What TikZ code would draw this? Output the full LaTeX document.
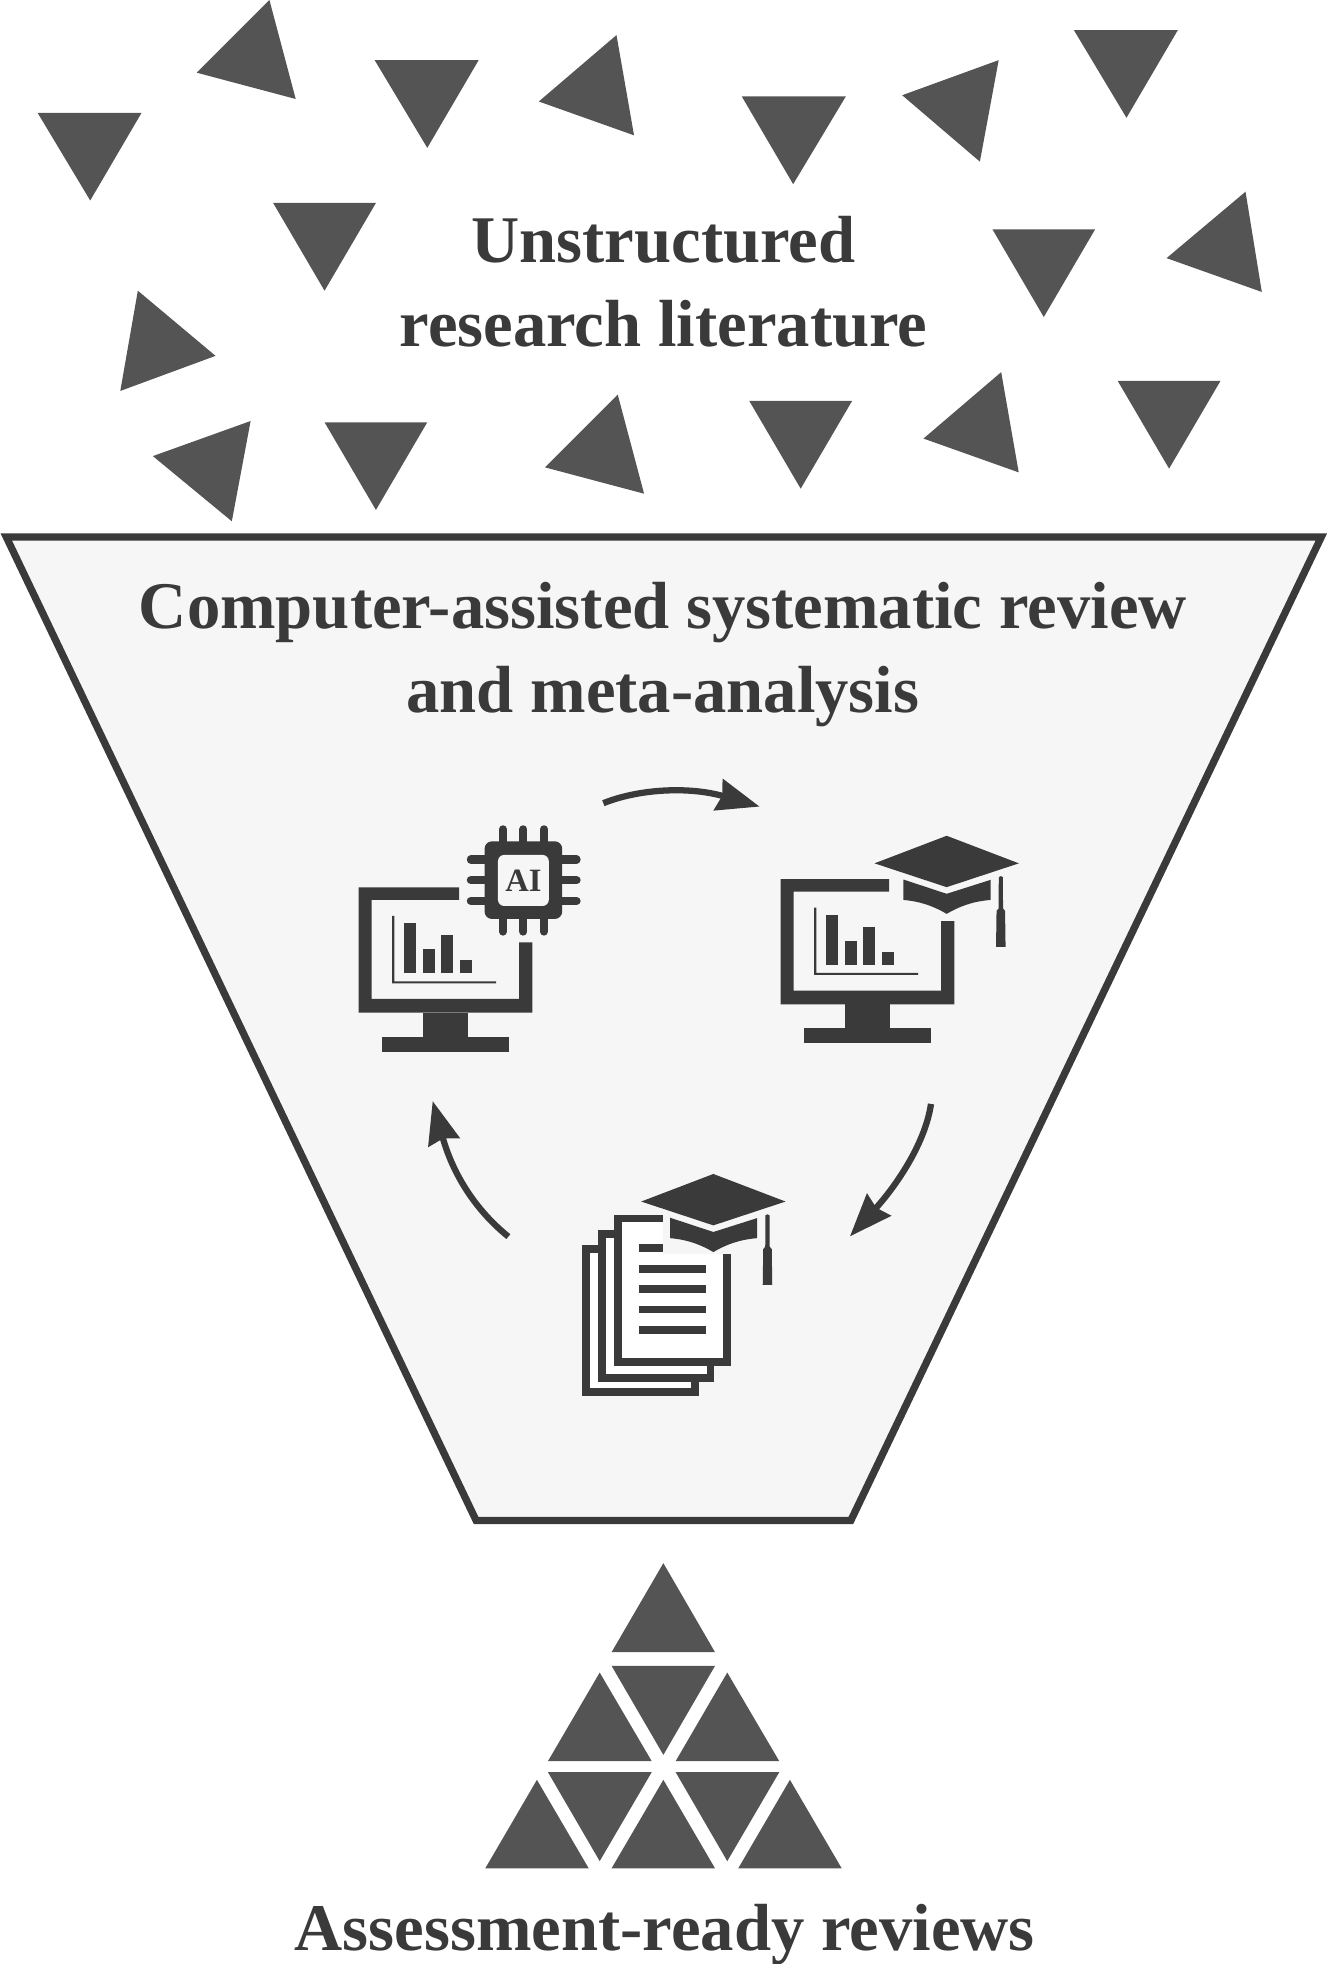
\documentclass[tikz,border=0pt]{standalone}
\usepackage{fontspec}
\setmainfont{Liberation Serif}
\usetikzlibrary{arrows.meta}

\definecolor{ink}{HTML}{3A3A3A}
\definecolor{shard}{HTML}{545454}
\definecolor{funnelbg}{HTML}{F6F6F6}

\tikzset{
	shard piece/.style={fill=shard, draw=none},
	big label/.style={font=\fontsize{53.2}{67}\selectfont\bfseries, text=ink, align=center, inner sep=0pt},
	cycle arrow/.style={draw=ink, line width=5pt, -{Stealth[length=34pt, width=25.5pt, inset=3pt]}},
	pics/monitor/.style n args={2}{code={
		\fill[ink] (#1,0) -- (0,0) -- (0,100) -- (138.6,100) -- (138.6,#2) -- (128,#2) -- (128,89) -- (10.3,89) -- (10.3,10.1) -- (#1,10.1) -- cycle;
		\fill[ink] (51.3,100) rectangle (86.9,119.2);
		\fill[ink] (18.5,119.2) rectangle (120,131.2);
		% axes and bars
		\fill[ink] (26.7,22.9) -- (28.5,22.9) -- (28.5,75) -- (109.7,75) -- (109.7,76.6) -- (26.7,76.6) -- cycle;
		\fill[ink] (36.3,28.5) rectangle (45.9,68.6);
		\fill[ink] (51.3,49.2) rectangle (60.9,68.6);
		\fill[ink] (65.9,38.3) rectangle (75.5,68.6);
		\fill[ink] (80.8,58) rectangle (90.5,68.6);
	}},
	pics/gradcap/.style={code={
		\fill[ink] (0,0) -- (57.6,22) -- (0,41) -- (-57.6,22) -- cycle;
		\fill[ink] (-34.6,34.9) -- (0,46.3) -- (35,35.2) -- (35,51.2) .. controls (20,52.5) and (10,56.5) .. (0,62.3) .. controls (-10,56.5) and (-20,52.5) .. (-34.6,51.2) -- cycle;
		\fill[ink] (41.6,33) -- (43.2,32.2) -- (44.8,33) -- (45,58) -- (46.6,60) -- (47,88.6) -- (39.4,88.6) -- (39.8,60) -- (41.4,58) -- cycle;
	}}
}

\begin{document}
\begin{tikzpicture}[x=1pt, y=-1pt]
	\useasboundingbox (0,0) rectangle (1059,1567.4);

	% scattered pieces
	\foreach \ax/\ay/\bx/\by/\cx/\cy in {
		30/90/113/90/72/160, 215/0/157/58/236/79, 299/48/382/48/341/118, 492/28/430/81/506/108,
		592/77/675/77/633/147, 797/48/720/76/782/129, 857/24/940/24/899/94, 218/162/300/162/259/232,
		792/183/874/183/833/253, 994/153/931/206/1007/233, 110/232/96/312/172/284, 200/336/122/364/185/416,
		259/337/341/337/300/407, 493/315/435/373/514/394, 598/320/680/320/639/390, 799/297/737/350/813/377,
		892/304/974/304/933/374}
		\fill[shard piece] (\ax,\ay) -- (\bx,\by) -- (\cx,\cy) -- cycle;

	\node[big label] (litlabel) at (529.5,225) {Unstructured\\research literature};

	% funnel
	\draw[ink, fill=funnelbg, line width=5.8pt] (5,428.5) -- (1054.5,428.5) -- (679,1213.5) -- (380,1213.5) -- cycle;
	\node[big label] (funnellabel) at (529,522.5) {Computer-assisted systematic review\\and meta-analysis};

	% monitor with chip
	\pic at (286.3,708.1) {monitor={80.1}{43.9}};
	\fill[ink, rounded corners=6pt] (386.7,671.4) rectangle (448.7,733.4);
	\fill[funnelbg, rounded corners=5pt] (397.4,682.3) rectangle (438,723);
	\foreach \p in {401.3, 417.7, 434.1} {
		\draw[ink, line width=6.4pt, line cap=round] (\p,675) -- (\p,661.8);
		\draw[ink, line width=6.4pt, line cap=round] (\p,730) -- (\p,743.5);
	}
	\foreach \q in {686, 702.5, 719} {
		\draw[ink, line width=6.6pt, line cap=round] (390,\q) -- (375.8,\q);
		\draw[ink, line width=6.6pt, line cap=round] (445,\q) -- (460.1,\q);
	}
	\node[font=\fontsize{26}{26}\selectfont\bfseries, text=ink, inner sep=0pt] (chiplabel) at (417.7,702.8) {AI};

	% monitor with cap
	\pic at (623,701.5) {monitor={86.5}{33.7}};
	\pic at (755.5,667) {gradcap};

	% stack of papers
	\foreach \px/\py in {467.6/996.6, 480.2/985, 493.4/972.4}
		\draw[ink, fill=white, line width=6.1pt] (\px,\py) rectangle ++(86.8,114.5);
	\foreach \ly in {996.2, 1012.6, 1028.8, 1045, 1061.3}
		\fill[ink] (509.7,\ly-3.1) rectangle (563.7,\ly+3.1);
	\fill[funnelbg] (529.4,965) rectangle (584,1001);
	\pic at (569.3,936.9) {gradcap};

	% arrows between the icons
	\coordinate (arrowAs) at (481.5,641);
	\coordinate (arrowAe) at (606.2,643.7);
	\coordinate (arrowBs) at (743,881);
	\coordinate (arrowBe) at (678.3,986.7);
	\coordinate (arrowCs) at (405.7,986.9);
	\coordinate (arrowCe) at (345.3,878.7);
	\draw[cycle arrow] (arrowAs) .. controls (510,629.5) and (550,627.5) .. (arrowAe);
	\draw[cycle arrow] (arrowBs) .. controls (738,915) and (712,950) .. (arrowBe);
	\draw[cycle arrow] (arrowCs) .. controls (375,962) and (359.7,931) .. (arrowCe);

	% assembled pieces
	\foreach \ax/\ay/\bx/\by/\cx/\cy in {
		529.4/1247.5/488.1/1318.5/570.6/1318.5, 488.1/1329.5/570.6/1329.5/529.4/1400.5,
		478.6/1334.8/437.3/1405.5/520.1/1405.5, 580.4/1334.8/539.2/1405.5/621.9/1405.5,
		437.3/1414.3/520.1/1414.3/478.6/1485.3, 539.2/1414.3/621.9/1414.3/580.4/1485.3,
		428.5/1420.4/387.3/1491/469.8/1491, 529.4/1420.4/488.1/1491/570.6/1491, 630.4/1420.4/589.2/1491/671.7/1491}
		\fill[shard piece] (\ax,\ay) -- (\bx,\by) -- (\cx,\cy) -- cycle;

	\node[big label, anchor=base] (reviewlabel) at (530.5,1557) {Assessment-ready reviews};
\end{tikzpicture}
\end{document}
